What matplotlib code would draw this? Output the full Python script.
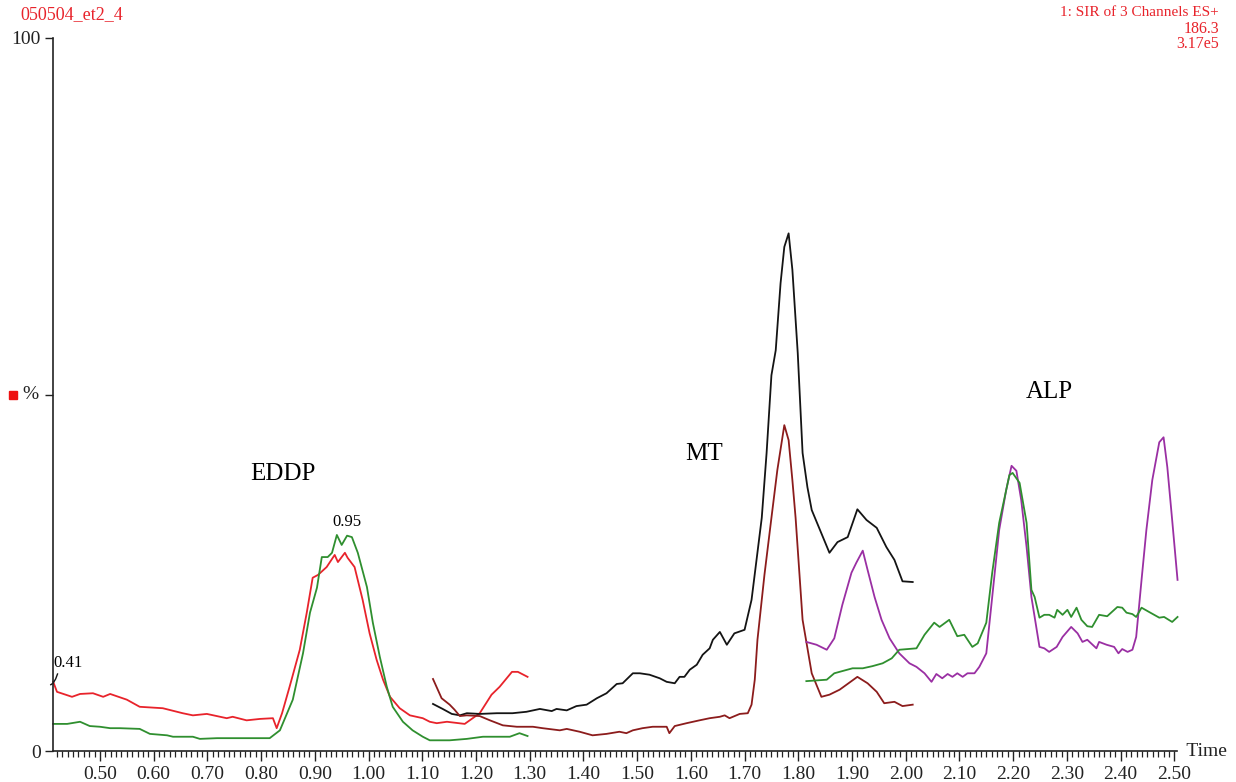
import matplotlib
matplotlib.use("Agg")
import matplotlib.pyplot as plt
from matplotlib.ticker import MultipleLocator, FormatStrFormatter, FixedLocator

plt.rcParams['font.family'] = ['Liberation Serif', 'DejaVu Serif']

# EDDP channel, red trace
red_t = [0.413, 0.420, 0.448, 0.463, 0.487, 0.506, 0.519, 0.550, 0.574, 0.617, 0.654, 0.673, 0.699,
         0.736, 0.747, 0.773, 0.798, 0.822, 0.829, 0.839, 0.853, 0.872, 0.885, 0.896, 0.906, 0.922,
         0.937, 0.943, 0.956, 0.961, 0.974, 0.989, 1.002, 1.015, 1.027, 1.040, 1.058, 1.077, 1.101,
         1.114, 1.127, 1.146, 1.179, 1.207, 1.229, 1.244, 1.267, 1.278, 1.296]
red_y = [9.7, 8.3, 7.6, 8.0, 8.1, 7.6, 8.0, 7.2, 6.2, 6.0, 5.3, 5.0, 5.2,
         4.6, 4.8, 4.3, 4.5, 4.6, 3.2, 5.3, 9.0, 14.2, 19.4, 24.3, 24.7, 25.8,
         27.5, 26.5, 27.8, 27.1, 25.8, 21.2, 16.5, 12.8, 10.0, 7.6, 6.0, 5.0, 4.6,
         4.1, 3.9, 4.1, 3.8, 5.3, 7.9, 9.0, 11.1, 11.1, 10.4]

# EDDP channel, green trace
grn1_t = [0.413, 0.439, 0.463, 0.481, 0.500, 0.519, 0.537, 0.574, 0.593, 0.625, 0.636, 0.673, 0.686,
          0.718, 0.747, 0.785, 0.816, 0.835, 0.859, 0.878, 0.891, 0.904, 0.913, 0.924, 0.932, 0.941,
          0.950, 0.960, 0.969, 0.980, 0.997, 1.008, 1.021, 1.034, 1.045, 1.064, 1.082, 1.101, 1.114,
          1.151, 1.183, 1.213, 1.244, 1.263, 1.281, 1.296]
grn1_y = [3.8, 3.8, 4.1, 3.5, 3.4, 3.2, 3.2, 3.1, 2.4, 2.2, 2.0, 2.0, 1.7,
          1.8, 1.8, 1.8, 1.8, 2.9, 7.2, 13.7, 19.4, 22.9, 27.2, 27.2, 27.8, 30.3,
          28.9, 30.2, 30.0, 27.8, 23.0, 18.0, 13.2, 9.0, 6.2, 4.1, 2.9, 2.0, 1.5,
          1.5, 1.7, 2.0, 2.0, 2.0, 2.5, 2.1]

# MT channel, black trace
blk_t = [1.120, 1.138, 1.155, 1.170, 1.183, 1.207, 1.239, 1.268, 1.294, 1.319, 1.341, 1.350, 1.369,
         1.387, 1.406, 1.425, 1.443, 1.462, 1.473, 1.492, 1.505, 1.523, 1.542, 1.555, 1.570, 1.579,
         1.588, 1.598, 1.611, 1.622, 1.635, 1.641, 1.654, 1.667, 1.681, 1.700, 1.713, 1.732, 1.741,
         1.750, 1.758, 1.767, 1.774, 1.782, 1.789, 1.799, 1.808, 1.817, 1.825, 1.858, 1.873, 1.892,
         1.910, 1.927, 1.946, 1.964, 1.979, 1.994, 2.013]
blk_y = [6.6, 5.9, 5.2, 5.0, 5.3, 5.2, 5.3, 5.3, 5.5, 5.9, 5.6, 5.9, 5.7,
         6.3, 6.5, 7.4, 8.1, 9.4, 9.5, 10.9, 10.9, 10.7, 10.2, 9.7, 9.5, 10.4,
         10.4, 11.4, 12.1, 13.5, 14.4, 15.6, 16.7, 14.9, 16.5, 17.0, 21.2, 32.7, 41.8,
         52.7, 56.2, 65.6, 70.7, 72.6, 67.5, 55.8, 41.8, 37.0, 33.8, 27.8, 29.3, 30.0,
         33.9, 32.4, 31.3, 28.6, 26.8, 23.8, 23.7]

# MT channel, dark red trace
drk_t = [1.120, 1.136, 1.151, 1.160, 1.170, 1.183, 1.207, 1.226, 1.250, 1.276, 1.306, 1.324, 1.356,
         1.369, 1.393, 1.417, 1.443, 1.467, 1.480, 1.492, 1.510, 1.529, 1.555, 1.560, 1.570, 1.592,
         1.616, 1.635, 1.654, 1.663, 1.672, 1.691, 1.706, 1.713, 1.719, 1.724, 1.737, 1.750, 1.761,
         1.774, 1.782, 1.789, 1.795, 1.808, 1.825, 1.843, 1.858, 1.877, 1.910, 1.929, 1.946, 1.960,
         1.979, 1.994, 2.013]
drk_y = [10.1, 7.4, 6.5, 5.8, 4.9, 5.0, 4.9, 4.3, 3.6, 3.4, 3.4, 3.2, 2.9,
         3.1, 2.7, 2.2, 2.4, 2.7, 2.5, 2.9, 3.2, 3.4, 3.4, 2.5, 3.5, 3.9,
         4.3, 4.6, 4.8, 5.0, 4.6, 5.2, 5.3, 6.5, 10.0, 15.6, 24.7, 32.7, 39.4,
         45.7, 43.6, 38.0, 32.7, 18.4, 10.9, 7.6, 7.9, 8.6, 10.4, 9.5, 8.3, 6.7,
         6.9, 6.3, 6.5]

# ALP channel, purple trace
pur_t = [1.815, 1.834, 1.853, 1.867, 1.882, 1.899, 1.908, 1.920, 1.929, 1.942, 1.955, 1.970, 1.988,
         2.007, 2.020, 2.035, 2.048, 2.057, 2.068, 2.078, 2.087, 2.096, 2.106, 2.115, 2.128, 2.137,
         2.150, 2.161, 2.174, 2.187, 2.197, 2.206, 2.215, 2.225, 2.234, 2.249, 2.258, 2.267, 2.281,
         2.292, 2.308, 2.320, 2.329, 2.338, 2.355, 2.360, 2.374, 2.388, 2.396, 2.403, 2.413, 2.422,
         2.429, 2.439, 2.448, 2.459, 2.472, 2.480, 2.487, 2.496, 2.506]
pur_y = [15.3, 14.9, 14.2, 15.8, 20.5, 25.0, 26.4, 28.1, 25.4, 21.6, 18.4, 15.8, 13.7,
         12.3, 11.8, 10.9, 9.7, 10.8, 10.2, 10.8, 10.4, 10.9, 10.4, 10.9, 10.9, 11.8,
         13.7, 21.6, 31.0, 36.6, 40.0, 39.3, 35.2, 28.6, 21.6, 14.6, 14.4, 13.9, 14.6,
         16.0, 17.4, 16.5, 15.3, 15.6, 14.4, 15.3, 14.9, 14.6, 13.7, 14.3, 13.9, 14.2,
         16.0, 24.0, 31.0, 38.0, 43.3, 44.0, 39.8, 32.4, 24.0]

# ALP channel, green trace
grn2_t = [1.815, 1.853, 1.867, 1.901, 1.920, 1.938, 1.957, 1.974, 1.988, 2.020, 2.035, 2.053, 2.063,
          2.081, 2.096, 2.109, 2.124, 2.134, 2.150, 2.161, 2.174, 2.193, 2.199, 2.212, 2.225, 2.234,
          2.240, 2.249, 2.258, 2.267, 2.277, 2.282, 2.292, 2.301, 2.308, 2.318, 2.327, 2.338, 2.347,
          2.360, 2.375, 2.394, 2.403, 2.411, 2.422, 2.429, 2.439, 2.453, 2.472, 2.481, 2.496, 2.506]
grn2_y = [9.8, 10.0, 10.9, 11.6, 11.6, 11.9, 12.3, 13.0, 14.2, 14.4, 16.3, 18.0, 17.4,
          18.4, 16.1, 16.3, 14.6, 15.1, 18.0, 25.0, 32.0, 38.7, 39.0, 37.6, 32.0, 22.6,
          21.6, 18.7, 19.1, 19.1, 18.7, 19.8, 19.1, 19.8, 18.8, 20.1, 18.4, 17.5, 17.4,
          19.1, 18.9, 20.2, 20.1, 19.4, 19.2, 18.8, 20.1, 19.5, 18.7, 18.8, 18.1, 18.8]

x_major = [0.50, 0.60, 0.70, 0.80, 0.90, 1.00, 1.10, 1.20, 1.30, 1.40, 1.50, 1.60, 1.70,
           1.80, 1.90, 2.00, 2.10, 2.20, 2.30, 2.40, 2.50]

RED = '#e8232b'
GREEN = '#2f8f2f'
BLACK = '#141414'
DARKRED = '#8c1c1c'
PURPLE = '#9a2fa3'

fig = plt.figure(figsize=(12.36, 7.82), dpi=100)
ax = fig.add_axes([53 / 1236, 31 / 782, (1177 - 53) / 1236, (751 - 38) / 782])

lw = 1.3
ax.plot(red_t, red_y, color=RED, lw=lw, clip_on=False)
ax.plot(grn1_t, grn1_y, color=GREEN, lw=lw, clip_on=False)
ax.plot(blk_t, blk_y, color=BLACK, lw=lw, clip_on=False)
ax.plot(drk_t, drk_y, color=DARKRED, lw=lw, clip_on=False)
ax.plot(pur_t, pur_y, color=PURPLE, lw=lw, clip_on=False)
ax.plot(grn2_t, grn2_y, color=GREEN, lw=lw, clip_on=False)

ax.set_xlim(0.4126, 2.505)
ax.set_ylim(0, 100)

for s in ('top', 'right'):
    ax.spines[s].set_visible(False)
for s in ('left', 'bottom'):
    ax.spines[s].set_linewidth(1.2)
    ax.spines[s].set_color('#222222')

ax.xaxis.set_major_locator(FixedLocator(x_major))
ax.xaxis.set_major_formatter(FormatStrFormatter('%.2f'))
ax.xaxis.set_minor_locator(MultipleLocator(0.01))
ax.tick_params(axis='x', which='major', direction='out', length=7, width=1.0,
               labelsize=14, pad=4, colors='#222222')
ax.tick_params(axis='x', which='minor', direction='out', length=4, width=0.9, colors='#222222')

ax.set_yticks([0, 50, 100])
ax.set_yticklabels(['0', '', '100'])
ax.tick_params(axis='y', direction='out', length=6, width=1.0, labelsize=14, pad=3,
               colors='#222222')

# y-axis unit marker
ax.text(-0.020, 50, '%', transform=ax.get_yaxis_transform(), ha='center', va='center',
        fontsize=14, color='#222222')
ax.plot([-0.036], [50], marker='s', ms=6, color='#ee1111', transform=ax.get_yaxis_transform(),
        clip_on=False)

ax.text(1.0, 0.0, '  Time', transform=ax.transAxes, ha='left', va='center', fontsize=14,
        color='#222222')

# header texts
fig.text(20 / 1236, 1 - 15 / 782, '050504_et2_4', color=RED, fontsize=13, ha='left', va='center')
fig.text(1219 / 1236, 1 - 13 / 782, '1: SIR of 3 Channels ES+', color=RED, fontsize=11,
         ha='right', va='center')
fig.text(1219 / 1236, 1 - 29 / 782, '186.3', color=RED, fontsize=11.5, ha='right', va='center')
fig.text(1219 / 1236, 1 - 44 / 782, '3.17e5', color=RED, fontsize=11.5, ha='right', va='center')

# peak annotations
ax.text(red_t[0] + 0.001, red_y[0] + 1.5, '0.41', fontsize=12, ha='left', va='bottom')
ax.plot([0.4085, 0.4126, 0.4175, 0.421], [red_y[0] - 0.4, red_y[0] - 0.2, red_y[0] + 0.4, red_y[0] + 1.1],
        color=BLACK, lw=1.0, clip_on=False)
ax.text(0.960, 31.0, '0.95', fontsize=12, ha='center', va='bottom')
ax.text(0.840, 38.8, 'EDDP', fontsize=18, ha='center', va='center')
ax.text(1.625, 41.6, 'MT', fontsize=18, ha='center', va='center')
ax.text(2.267, 50.3, 'ALP', fontsize=18, ha='center', va='center')

fig.savefig('out.png', dpi=100, facecolor='white')
